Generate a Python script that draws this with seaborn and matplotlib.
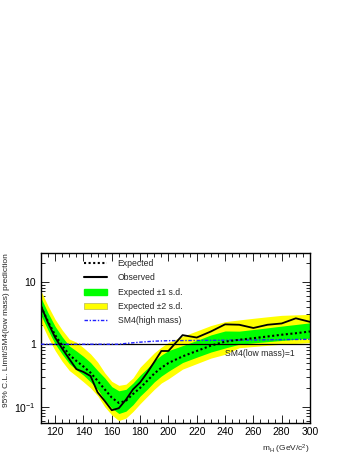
import numpy as np
import pandas as pd
import matplotlib
matplotlib.use('Agg')
import matplotlib.pyplot as plt
import matplotlib.ticker as mticker
from matplotlib.lines import Line2D
from matplotlib.patches import Patch
import seaborn as sns

# ── data ───────────────────────────────────────────────────────────────────
mass = [110, 115, 120, 125, 130, 135, 140, 145, 150, 155, 160, 165, 170, 175,
        180, 185, 190, 195, 200, 210, 220, 230, 240, 250, 260, 270, 280, 290, 300]

expected = [4.0, 2.3, 1.4, 0.95, 0.68, 0.54, 0.44, 0.35, 0.26, 0.19, 0.14, 0.115,
            0.125, 0.16, 0.20, 0.26, 0.34, 0.42, 0.50, 0.64, 0.78, 0.95, 1.10,
            1.18, 1.25, 1.33, 1.42, 1.50, 1.60]

observed = [4.1, 2.2, 1.28, 0.85, 0.58, 0.40, 0.36, 0.31, 0.17, 0.124, 0.088, 0.095,
            0.13, 0.19, 0.245, 0.35, 0.52, 0.78, 0.78, 1.40, 1.28, 1.60, 2.08,
            2.05, 1.82, 2.05, 2.15, 2.60, 2.28]

band1_lo = [2.9, 1.67, 1.01, 0.69, 0.49, 0.39, 0.32, 0.25, 0.19, 0.128, 0.095, 0.078,
            0.085, 0.108, 0.148, 0.19, 0.25, 0.31, 0.37, 0.51, 0.62, 0.75, 0.87,
            1.0, 1.05, 1.1, 1.15, 1.2, 1.25]
band1_hi = [5.5, 3.17, 1.93, 1.31, 0.94, 0.78, 0.64, 0.51, 0.38, 0.29, 0.21, 0.18,
            0.19, 0.24, 0.32, 0.41, 0.54, 0.67, 0.79, 0.95, 1.15, 1.41, 1.63,
            1.62, 1.72, 1.83, 1.95, 2.07, 2.2]
band2_lo = [2.25, 1.29, 0.79, 0.53, 0.38, 0.31, 0.25, 0.20, 0.15, 0.10, 0.074, 0.060,
            0.066, 0.084, 0.112, 0.146, 0.19, 0.24, 0.28, 0.40, 0.49, 0.60, 0.69,
            0.88, 0.92, 0.96, 1.0, 1.03, 1.06]
band2_hi = [7.1, 4.1, 2.5, 1.69, 1.21, 1.08, 0.88, 0.70, 0.52, 0.35, 0.255, 0.22,
            0.23, 0.29, 0.43, 0.56, 0.73, 0.90, 1.07, 1.34, 1.63, 1.99, 2.30,
            2.45, 2.6, 2.75, 2.9, 2.95, 3.0]

sm4_mass = [110, 160, 165, 170, 180, 190, 200, 220, 260, 300]
sm4_high = [1.0, 1.0, 1.0, 1.03, 1.08, 1.12, 1.14, 1.15, 1.17, 1.2]

df = pd.DataFrame({'mass': mass, 'expected': expected, 'observed': observed})
df_sm4 = pd.DataFrame({'mass': sm4_mass, 'ratio': sm4_high})

# ── style ──────────────────────────────────────────────────────────────────
sns.set_style('ticks')
plt.rcParams['font.family'] = ['Liberation Sans', 'DejaVu Sans']
plt.rcParams['mathtext.fontset'] = 'custom'
plt.rcParams['mathtext.rm'] = 'Liberation Sans'
plt.rcParams['mathtext.it'] = 'Liberation Sans:italic'
plt.rcParams['mathtext.default'] = 'regular'

GREEN  = '#00ff00'
YELLOW = '#ffff00'
BLUE   = '#2020ff'

fig = plt.figure(figsize=(3.53, 4.57), dpi=100)
ax = fig.add_axes([41 / 353, 1 - 423 / 457, 269 / 353, 170 / 457])

ax.fill_between(mass, band2_lo, band2_hi, color=YELLOW, lw=0, zorder=1)
ax.fill_between(mass, band1_lo, band1_hi, color=GREEN, lw=0, zorder=2)

ax.axhline(1, color='black', lw=0.9, zorder=3)
sns.lineplot(data=df_sm4, x='mass', y='ratio', ax=ax, color=BLUE, lw=1.0,
             linestyle=(0, (2.5, 1.2, 1, 1.2)), zorder=4)
sns.lineplot(data=df, x='mass', y='expected', ax=ax, color='black', lw=1.5,
             linestyle=(0, (1, 1.2)), zorder=5)
sns.lineplot(data=df, x='mass', y='observed', ax=ax, color='black', lw=1.3,
             zorder=6)

ax.set_yscale('log')
ax.set_xlim(110, 300)
ax.set_ylim(0.055, 28.8)

ax.xaxis.set_major_locator(mticker.MultipleLocator(20))
ax.xaxis.set_minor_locator(mticker.MultipleLocator(5))
ax.yaxis.set_major_locator(mticker.FixedLocator([0.1, 1, 10]))
ax.yaxis.set_major_formatter(mticker.FixedFormatter(['$10^{-1}$', '1', '10']))
ax.yaxis.set_minor_locator(mticker.LogLocator(base=10, subs=np.arange(2, 10)))
ax.yaxis.set_minor_formatter(mticker.NullFormatter())

ax.tick_params(which='both', direction='in', top=True, right=True, width=0.6,
               labelsize=7.5, colors='black')
ax.tick_params(which='major', length=6)
ax.tick_params(which='minor', length=3)
ax.tick_params(axis='x', pad=3)
for s in ax.spines.values():
    s.set_linewidth(1.0)
    s.set_color('black')

ax.set_xlabel('m$_{H}$ (GeV/c$^{2}$)', fontsize=6, loc='right')
ax.xaxis.set_label_coords(1.0, -0.115)
ax.set_ylabel('95% C.L. Limit/SM4(low mass) prediction', fontsize=6, loc='top')
ax.yaxis.set_label_coords(-0.115, 1.0)

ax.text(240, 0.71, 'SM4(low mass)=1', fontsize=6.2, ha='left', va='center')

handles = [
    Line2D([], [], color='black', lw=1.5, linestyle=(0, (1, 1.2))),
    Line2D([], [], color='black', lw=1.5),
    Patch(facecolor=GREEN, edgecolor=GREEN),
    Patch(facecolor=YELLOW, edgecolor='#c0c060', lw=0.6),
    Line2D([], [], color=BLUE, lw=1.0, linestyle=(0, (2.5, 1.2, 1, 1.2))),
]
labels = ['Expected', 'Observed', 'Expected \u00b11 s.d.',
          'Expected \u00b12 s.d.', 'SM4(high mass)']
ax.legend(handles, labels, loc='upper left', bbox_to_anchor=(0.16, 0.965),
          frameon=False, fontsize=6.2, handlelength=2.7, handletextpad=1.2,
          labelspacing=0.62, borderpad=0, borderaxespad=0)

fig.savefig('out.png', dpi=100)
